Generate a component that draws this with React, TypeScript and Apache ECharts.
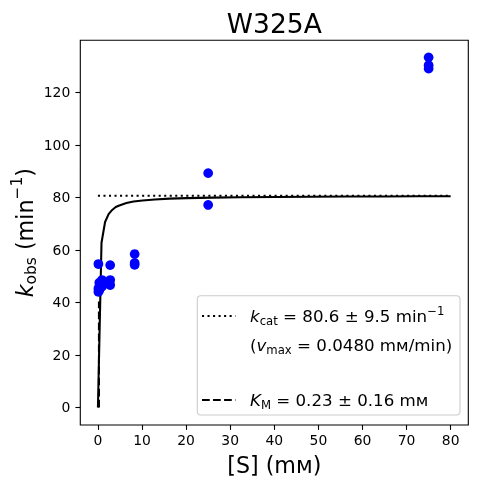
import React, { useEffect, useRef } from "react";
import * as echarts from "echarts";

// ---- data ----
const substrateMM = [
  0.103, 0.103, 0.103,
  0.309, 0.309, 0.309,
  0.926, 0.926, 0.926,
  2.78, 2.78, 2.78,
  8.33, 8.33, 8.33,
  25, 25,
  75, 75, 75,
];
const kobsValues = [
  54.6, 45.2, 44.0,
  46.0, 47.5, 44.6,
  48.5, 47.0, 46.0,
  54.2, 48.5, 46.6,
  58.4, 55.0, 54.3,
  89.2, 77.1,
  133.3, 130.3, 129.0,
];
const fitX = [0, 0.81, 1.62, 2.42, 3.23, 4.04, 4.85, 6.46, 8.08, 10.1, 12.9, 16.2, 20.2, 25.9, 32.3, 40.4, 48.5, 56.6, 64.6, 72.7, 80];
const fitY = [0, 62.7, 70.6, 73.6, 75.2, 76.3, 76.9, 77.8, 78.4, 78.8, 79.2, 79.5, 79.7, 79.9, 80.0, 80.1, 80.2, 80.3, 80.3, 80.4, 80.4];
const kcat = 80.6;
const kcatLineX = [0, 80];
const KM = 0.23;
const xTicks = [0, 10, 20, 30, 40, 50, 60, 70, 80];
const yTicks = [0, 20, 40, 60, 80, 100, 120];
const titleText = "W325A";

const FONT = "DejaVu Sans";
let measureCtx: CanvasRenderingContext2D | null = null;
function tw(t: string, s: number, it?: boolean) {
  if (!measureCtx) measureCtx = document.createElement("canvas").getContext("2d");
  measureCtx!.font = `${it ? "italic " : ""}${s}px "${FONT}"`;
  return measureCtx!.measureText(t).width;
}
type Seg = { t: string; s: number; dy?: number; it?: boolean };
function run(segs: Seg[], x0: number, baseline: number, align: "left" | "center") {
  const widths = segs.map((g) => tw(g.t, g.s, g.it));
  const total = widths.reduce((a, b) => a + b, 0);
  let x = align === "center" ? x0 - total / 2 : x0;
  return segs.map((g, i) => {
    const el = {
      type: "text",
      x,
      y: baseline + (g.dy || 0) - 0.3 * g.s,
      style: {
        text: g.t,
        fontSize: g.s,
        fontFamily: FONT,
        fontStyle: g.it ? "italic" : "normal",
        fill: "#000",
        align: "left",
        verticalAlign: "middle",
      },
    };
    x += widths[i];
    return el;
  });
}

export default function App() {
  const ref = useRef<HTMLDivElement>(null);
  useEffect(() => {
    const chart = echarts.init(ref.current!, null, { renderer: "svg" });
    const L = 16.67;
    const Ls = 11.67;
    const A = 22.2;
    const As = 15.5;
    const legendX = 250;
    const graphics: any[] = [
      ...run([{ t: titleText, s: 26.5 }], 274.3, 31.7, "center"),
      ...run([{ t: "[S] (mᴍ)", s: A }], 274.3, 471.3, "center"),
      {
        type: "group",
        x: 32,
        y: 232.7,
        rotation: Math.PI / 2,
        children: run(
          [
            { t: "k", s: A, it: true },
            { t: "obs", s: As, dy: 3.5 },
            { t: " (min", s: A },
            { t: "−1", s: As, dy: -10 },
            { t: ")", s: A },
          ],
          0,
          0,
          "center"
        ),
      },
      {
        type: "rect",
        shape: { x: 197.3, y: 295.7, width: 262.7, height: 119.3, r: 3.3 },
        style: { fill: "rgba(255,255,255,0.8)", stroke: "#cccccc", lineWidth: 1.1 },
        z: 10,
      },
      {
        type: "line",
        shape: { x1: 202, y1: 316, x2: 235.5, y2: 316 },
        style: { stroke: "#000", lineWidth: 2.08, lineDash: [2.08, 3.44] },
        z: 11,
      },
      {
        type: "line",
        shape: { x1: 202, y1: 400, x2: 235.5, y2: 400 },
        style: { stroke: "#000", lineWidth: 2.08, lineDash: [7.7, 3.33] },
        z: 11,
      },
      ...run(
        [
          { t: "k", s: L, it: true },
          { t: "cat", s: Ls, dy: 2.8 },
          { t: " = 80.6 ± 9.5 min", s: L },
          { t: "−1", s: Ls, dy: -7.5 },
        ],
        legendX,
        322,
        "left"
      ).map((e) => ({ ...e, z: 12 })),
      ...run(
        [
          { t: "(", s: L },
          { t: "v", s: L, it: true },
          { t: "max", s: Ls, dy: 2.8 },
          { t: " = 0.0480 mᴍ/min)", s: L },
        ],
        legendX,
        351,
        "left"
      ).map((e) => ({ ...e, z: 12 })),
      ...run(
        [
          { t: "K", s: L, it: true },
          { t: "M", s: Ls, dy: 2.8 },
          { t: " = 0.23 ± 0.16 mᴍ", s: L },
        ],
        legendX,
        406,
        "left"
      ).map((e) => ({ ...e, z: 12 })),
    ];

    chart.setOption({
      animation: false,
      grid: {
        left: 80.3,
        top: 40.3,
        right: 8.7,
        bottom: 59,
        show: true,
        borderColor: "#000",
        borderWidth: 1.1,
        backgroundColor: "transparent",
        outerBoundsMode: "none",
      },
      xAxis: {
        type: "value",
        min: -4,
        max: 84,
        axisLine: { show: false, onZero: false },
        splitLine: { show: false },
        axisTick: { show: true, customValues: xTicks, length: 4.9, lineStyle: { color: "#000", width: 1.1 } },
        axisLabel: { customValues: xTicks, color: "#000", fontSize: 13.9, fontFamily: FONT, margin: 8 },
      },
      yAxis: {
        type: "value",
        min: -6.7,
        max: 139.8,
        axisLine: { show: false, onZero: false },
        splitLine: { show: false },
        axisTick: { show: true, customValues: yTicks, length: 4.9, lineStyle: { color: "#000", width: 1.1 } },
        axisLabel: { customValues: yTicks, color: "#000", fontSize: 13.9, fontFamily: FONT, margin: 10 },
      },
      series: [
        {
          type: "line",
          data: fitX.map((x, i) => [x, fitY[i]]),
          symbol: "none",
          lineStyle: { color: "#000", width: 2.08 },
          z: 2,
        },
        {
          type: "line",
          data: kcatLineX.map((x) => [x, kcat]),
          symbol: "none",
          lineStyle: { color: "#000", width: 2.08, type: [2.08, 3.44] },
          z: 2,
        },
        {
          type: "line",
          data: [
            [KM, 0],
            [KM, kcat / 2],
          ],
          symbol: "none",
          lineStyle: { color: "#000", width: 2.08, type: [7.7, 3.33] },
          z: 2,
        },
        {
          type: "scatter",
          data: substrateMM.map((x, i) => [x, kobsValues[i]]),
          symbol: "circle",
          symbolSize: 9.7,
          itemStyle: { color: "#0000ff", opacity: 1 },
          z: 3,
        },
      ],
      graphic: graphics,
    });
    return () => chart.dispose();
  }, []);
  return <div ref={ref} style={{ position: "fixed", left: 0, top: 0, width: 477, height: 484 }} />;
}
